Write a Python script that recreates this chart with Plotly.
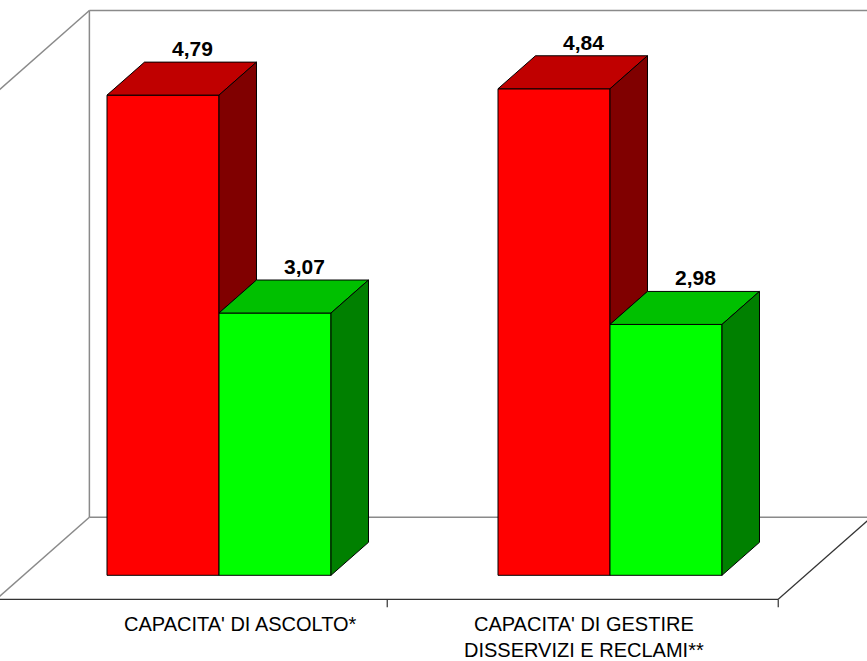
import plotly.graph_objects as go

# ---- data ----
categories = ["CAPACITA' DI ASCOLTO*", "CAPACITA' DI GESTIRE<br>DISSERVIZI E RECLAMI**"]
red_values = [4.79, 4.84]
green_values = [3.07, 2.98]
y_min, y_max = 1, 5

# ---- layout / projection constants ----
W, H = 867, 661
PX_X, X0_PX = 391.0, 219.0        # px per category unit, px of category 0
PX_Y, Y0_PX = 126.7, 702.0        # px per value unit, px of value 0
KX = 1.136 / PX_X                 # oblique depth projection (per depth px)
KY = 1.0 / PX_Y
BAR_W = 112.0 / PX_X
BAR_D = 33.0                      # bar depth
FLOOR_FRONT = -24.0
BACK = 58.0

def proj(x, v, d):
    return x + d * KX, v + d * KY

red = dict(front="#FF0000", top="#C00000", side="#800000")
green = dict(front="#00FF00", top="#00C000", side="#008000")

fig = go.Figure()

def poly(pts, color):
    xs = [p[0] for p in pts] + [pts[0][0]]
    ys = [p[1] for p in pts] + [pts[0][1]]
    fig.add_trace(go.Scatter(x=xs, y=ys, mode="lines", fill="toself", fillcolor=color,
                             line=dict(color="black", width=1), hoverinfo="skip", showlegend=False))

xs_idx = list(range(len(categories)))

# front faces as bars
fig.add_trace(go.Bar(x=xs_idx, y=[v - y_min for v in red_values], base=y_min, width=BAR_W, offset=-BAR_W,
                     marker=dict(color=red["front"], line=dict(color="black", width=1)), showlegend=False))
fig.add_trace(go.Bar(x=xs_idx, y=[v - y_min for v in green_values], base=y_min, width=BAR_W, offset=0,
                     marker=dict(color=green["front"], line=dict(color="black", width=1)), showlegend=False))

for i in xs_idx:
    r, g = red_values[i], green_values[i]
    # red bar top and visible side part (above green top)
    x0, x1 = i - BAR_W, i
    poly([(x0, r), (x1, r), proj(x1, r, BAR_D), proj(x0, r, BAR_D)], red["top"])
    poly([(x1, g), (x1, r), proj(x1, r, BAR_D), proj(x1, g, BAR_D)], red["side"])
    # green bar top and side
    x0, x1 = i, i + BAR_W
    poly([(x0, g), (x1, g), proj(x1, g, BAR_D), proj(x0, g, BAR_D)], green["top"])
    poly([(x1, y_min), (x1, g), proj(x1, g, BAR_D), proj(x1, y_min, BAR_D)], green["side"])

# value labels
lab_font = dict(family="Arial, Liberation Sans, sans-serif", size=21, color="black", weight="bold")
for i in xs_idx:
    for v, off in ((red_values[i], -BAR_W / 2), (green_values[i], BAR_W / 2)):
        lx, _ = proj(i + off, v, BAR_D * 0.8)
        ly = v + BAR_D * KY
        fig.add_annotation(x=lx, y=ly, text=f"{v:.2f}".replace(".", ","), showarrow=False,
                           yanchor="bottom", yshift=0, font=lab_font)

# walls / floor
xl, xr = -0.5, len(categories) - 0.5
shapes = []
def seg(a, b, color="#8a8a8a", width=1.5):
    shapes.append(dict(type="line", xref="x", yref="y", x0=a[0], y0=a[1], x1=b[0], y1=b[1],
                       line=dict(color=color, width=width), layer="below"))

seg(proj(xl, y_max, BACK), proj(xr, y_max, BACK))
seg(proj(xl, y_min, BACK), proj(xr, y_min, BACK))
seg(proj(xl, y_min, BACK), proj(xl, y_max, BACK))
seg(proj(xr, y_min, BACK), proj(xr, y_max, BACK))
seg(proj(xl, y_max, BACK), proj(xl, y_max, FLOOR_FRONT))
seg(proj(xl, y_min, BACK), proj(xl, y_min, FLOOR_FRONT))
seg(proj(xr, y_min, BACK), proj(xr, y_min, FLOOR_FRONT), color="#333333", width=1.2)
seg(proj(xl, y_min, FLOOR_FRONT), proj(xr, y_min, FLOOR_FRONT), color="#333333", width=1.2)
for t in [i + 0.5 for i in xs_idx]:
    a = proj(t, y_min, FLOOR_FRONT)
    seg(a, (a[0], a[1] - 8 * KY), color="#333333", width=1.2)

# category labels
cat_font = dict(family="Arial, Liberation Sans, sans-serif", size=20, color="black")
label_xshift = [21, -26]
for i, c in enumerate(categories):
    ax, ay = proj(i, y_min, FLOOR_FRONT)
    fig.add_annotation(x=i, y=ay, text=c, showarrow=False, yanchor="top", yshift=-12,
                       xshift=label_xshift[i], font=cat_font, align="center")

fig.update_layout(
    width=W, height=H, margin=dict(l=0, r=0, t=0, b=0),
    paper_bgcolor="white", plot_bgcolor="white", barmode="overlay", showlegend=False,
    shapes=shapes,
    xaxis=dict(range=[(0 - X0_PX) / PX_X, (W - X0_PX) / PX_X], visible=False, fixedrange=True),
    yaxis=dict(range=[(Y0_PX - H) / PX_Y, Y0_PX / PX_Y], visible=False, fixedrange=True),
)

fig.write_html("out.html", config={"displayModeBar": False},
               post_script="document.body.style.margin='0';document.body.style.overflow='hidden';")
